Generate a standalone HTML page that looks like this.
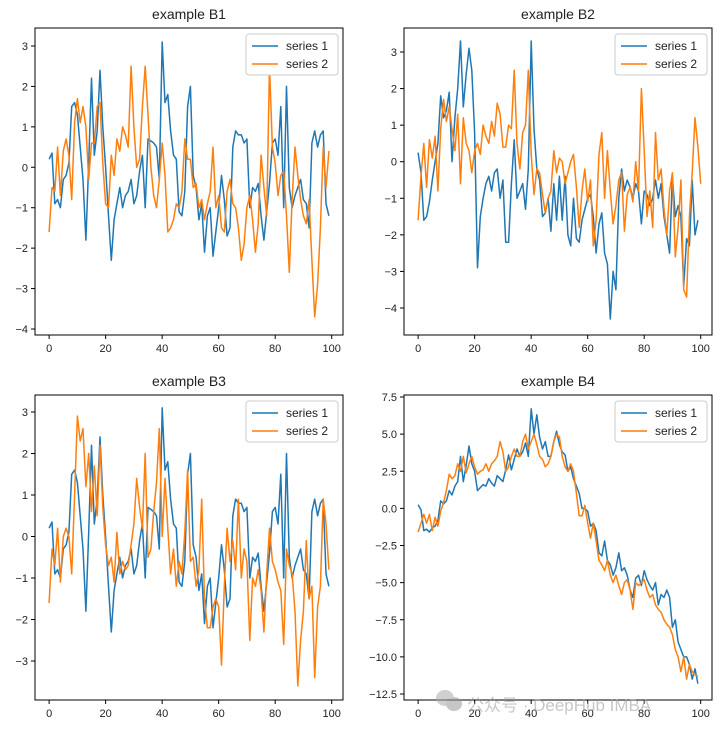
<!DOCTYPE html>
<html><head><meta charset="utf-8"><style>
body{margin:0;background:#fff;width:720px;height:730px;overflow:hidden}
svg text{font-family:"Liberation Sans","DejaVu Sans",sans-serif;fill:#222}
</style></head><body>
<svg id="chart" width="720" height="730" xmlns="http://www.w3.org/2000/svg"></svg>
<script>
const b1s1=[0.2,0.35,-0.9,-0.8,-1.0,-0.3,-0.2,0.1,1.5,1.6,1.3,0.5,-0.3,-1.8,0.1,2.2,0.3,0.9,2.4,1.0,0.0,-1.2,-2.3,-1.3,-0.9,-0.5,-1.0,-0.7,-0.6,-0.3,-0.9,-0.7,-0.1,0.3,-1.0,0.7,0.65,0.6,0.5,-0.3,3.1,1.6,1.8,0.9,0.3,0.2,-1.1,-1.2,-0.6,1.5,2.0,-0.2,-0.5,-1.3,-0.9,-2.1,-1.2,-1.0,-2.2,-1.6,-1.0,-0.2,-0.8,-1.7,-1.5,0.5,0.9,0.8,0.8,0.6,0.7,-1.0,-0.5,-0.6,-0.4,-1.2,-1.8,-1.1,-0.4,0.6,0.7,0.3,1.5,-1.0,2.0,-0.5,-1.0,-0.7,-0.5,-0.3,-0.8,-0.9,-1.5,0.6,0.9,0.5,0.8,0.9,-0.9,-1.2];
const b1s2=[-1.6,-0.5,-0.6,0.5,-0.7,0.4,0.7,0.3,-0.8,1.1,1.7,1.1,1.5,1.0,-0.3,0.6,0.6,1.5,1.6,0.1,-0.9,-1.0,0.3,-0.2,0.7,0.4,1.0,0.8,0.5,2.5,1.0,0.0,0.2,1.5,2.5,1.3,0.0,-0.7,-1.0,-0.3,0.6,-0.2,-1.6,-1.5,-1.3,-0.9,-1.0,-0.6,0.7,0.2,0.2,-0.5,-0.4,-1.0,-0.8,-1.3,-0.9,-0.6,0.5,-1.0,-0.7,-1.5,-1.6,-0.6,-0.3,-0.9,-1.0,-1.5,-2.3,-1.9,-1.0,-0.7,-1.3,-2.1,-1.4,0.3,-0.5,-1.2,2.5,0.5,0.1,-0.7,-0.2,-0.1,-1.2,-2.6,-0.8,0.5,-0.2,-0.8,-1.2,-1.4,-0.8,-2.3,-3.7,-2.9,-1.5,0.5,-0.5,0.4];
const b2s1=[0.25,-0.3,-1.6,-1.5,-1.1,-0.5,0.0,0.5,1.8,1.2,1.4,1.9,0.0,1.2,2.0,3.3,1.5,2.4,3.1,2.5,0.8,-2.9,-1.5,-1.0,-0.6,-0.4,-0.8,-0.3,-0.2,-1.0,-0.5,-2.2,-2.2,-0.6,0.6,-1.0,-0.8,-0.6,-1.3,-0.2,3.3,0.9,-0.2,-0.5,-1.5,-1.4,-1.0,-1.9,-0.6,-1.6,-0.4,-1.6,-0.4,-2.0,-2.3,-1.0,-2.1,-2.2,-1.6,-1.3,-1.0,-0.9,-1.5,-2.5,-1.7,-1.4,-2.5,-2.8,-4.3,-3.0,-3.5,-1.0,-0.2,-0.8,-0.5,-0.7,-1.0,-0.6,-0.8,-1.7,-0.8,-0.9,-1.2,-1.0,-0.5,-1.0,-0.6,-1.5,-2.0,-2.5,-0.4,-1.5,-1.2,-1.5,-3.4,-2.1,-2.3,-0.5,-2.0,-1.6];
const b2s2=[-1.6,-0.4,0.5,-0.7,0.6,0.1,0.7,-0.8,0.9,1.7,1.1,1.5,0.9,0.3,1.3,-0.6,1.2,0.5,0.3,-0.3,0.3,0.5,0.2,1.0,0.7,0.5,1.1,0.7,1.6,1.3,0.4,0.4,1.0,0.9,2.5,0.5,-0.2,0.8,1.0,2.5,0.2,-0.9,-0.2,-0.3,-0.9,-1.4,-1.0,-0.8,0.3,-0.3,0.1,0.0,-0.6,-0.3,0.0,0.2,-0.7,-1.8,-0.8,-0.2,-1.1,-0.5,-2.3,-1.6,0.2,0.8,-1.0,0.3,-0.8,-1.7,-1.2,-0.5,-0.3,-1.9,-0.9,-0.7,-1.1,0.0,-0.8,2.0,0.3,-1.5,-0.8,-1.8,0.8,-0.5,-0.2,-1.3,-2.0,-0.8,-0.3,-2.6,-1.8,-0.5,-3.5,-3.7,-1.5,-0.3,1.2,0.4,-0.6];
const b3s1=b1s1.slice();
const b3s2=[-1.6,-0.3,-0.7,0.2,-1.1,0.0,0.2,0.0,-0.9,1.0,2.9,2.3,2.6,1.2,2.0,0.6,1.7,0.5,2.2,0.7,-0.2,-0.7,-0.5,-1.1,0.1,-0.9,-0.6,-0.8,-0.7,-0.2,0.3,1.4,0.7,0.2,2.0,-0.5,-0.3,0.6,1.3,2.6,0.0,1.4,0.2,-0.9,-0.3,-1.2,-0.6,-0.9,0.1,1.6,-0.6,-0.5,-1.2,-0.8,0.9,-1.5,-2.2,-2.2,-1.7,-1.5,-1.7,-3.1,-1.2,0.2,-0.6,-0.1,-0.8,0.9,-1.0,-0.3,-0.6,-2.5,-1.0,-1.2,-0.8,-1.3,-2.3,-0.9,0.2,-0.6,-0.8,-1.1,-1.3,-2.6,-0.3,-0.7,-0.9,-1.8,-3.6,-2.5,-1.8,-0.1,-1.5,-1.2,-3.4,-1.7,-1.2,0.9,0.3,-0.8];
const b4s1=[0.25,-0.1,-1.5,-1.4,-1.6,-1.3,-1.2,-0.8,0.5,0.3,0.5,1.2,0.9,1.5,1.8,3.5,1.8,2.9,4.2,3.0,2.5,1.2,1.4,1.6,1.5,2.0,1.7,1.5,2.2,2.0,1.8,2.6,3.6,2.6,3.3,4.0,3.5,3.8,4.4,3.5,6.7,5.0,6.3,4.8,4.0,4.5,3.5,3.5,4.5,5.2,4.3,3.8,3.6,2.5,2.8,2.0,1.5,1.0,0.0,0.0,-0.2,-1.2,-1.0,-1.5,-3.0,-3.2,-2.2,-3.5,-3.8,-4.5,-4.0,-3.0,-4.2,-4.0,-4.5,-5.5,-6.0,-4.7,-4.5,-5.2,-4.2,-4.8,-5.2,-5.5,-5.0,-6.5,-5.8,-6.0,-5.5,-6.0,-8.0,-7.5,-9.0,-9.5,-10.0,-10.0,-10.5,-11.5,-10.8,-11.8];
const b4s2=[-1.6,-1.0,-0.4,-1.0,-0.4,-1.5,-0.6,-1.2,-0.2,0.4,1.2,2.3,2.0,2.2,3.0,2.5,3.5,2.4,3.0,3.5,2.8,2.3,2.5,2.6,3.0,2.5,3.0,3.2,3.5,4.5,3.8,2.5,2.8,3.5,4.0,3.5,3.5,4.5,5.0,4.0,4.5,5.0,4.3,3.5,3.3,2.8,3.0,3.5,4.5,5.0,4.8,3.5,2.8,2.5,3.0,2.5,1.0,-0.5,-0.5,0.2,-1.0,-2.0,-1.0,-2.2,-3.5,-3.8,-4.2,-3.5,-4.5,-5.0,-4.5,-5.2,-5.8,-5.0,-4.8,-5.5,-6.8,-5.0,-5.2,-5.0,-4.8,-5.5,-6.0,-5.8,-6.5,-6.8,-7.0,-7.5,-7.8,-8.0,-8.5,-9.5,-10.0,-11.0,-10.0,-11.5,-10.5,-11.0,-11.2,-11.3];
const xTicks=[0,20,40,60,80,100];
const yTicksA=[3,2,1,0,-1,-2,-3,-4];
const yTicksB=[3,2,1,0,-1,-2,-3,-4];
const yTicksC=[3,2,1,0,-1,-2,-3];
const yTicksD=[7.5,5.0,2.5,0.0,-2.5,-5.0,-7.5,-10.0,-12.5];
const titles=["example B1","example B2","example B3","example B4"];

const NS="http://www.w3.org/2000/svg";
const svg=document.getElementById('chart');
function mk(tag,attrs,parent){const e=document.createElementNS(NS,tag);for(const k in attrs)e.setAttribute(k,attrs[k]);(parent||svg).appendChild(e);return e;}
const C1='#1f77b4', C2='#ff7f0e';
const panels=[
 {L:35,T:28,W:308,H:307,s1:b1s1,s2:b1s2,ticks:yTicksA,v0:3,p0:46,v1:-4,p1:329,dec:0},
 {L:404,T:28,W:308,H:307,s1:b2s1,s2:b2s2,ticks:yTicksB,v0:3,p0:52,v1:-4,p1:308,dec:0},
 {L:35,T:395,W:308,H:305,s1:b3s1,s2:b3s2,ticks:yTicksC,v0:3,p0:412,v1:-3,p1:661,dec:0},
 {L:404,T:395,W:308,H:305,s1:b4s1,s2:b4s2,ticks:yTicksD,v0:7.5,p0:397,v1:-12.5,p1:694,dec:1}
];
panels.forEach((p,pi)=>{
  const g=mk('g',{});
  
  
  const xs=v=>p.L+(v+5)/109*p.W;
  const ys=v=>p.p0+(v-p.v0)/(p.v1-p.v0)*(p.p1-p.p0);
  const t=mk('text',{x:p.L+p.W/2,y:p.T-9,'text-anchor':'middle','font-size':14},g);
  t.textContent=titles[pi];
  
  
  [[p.s1,C1,'series-1-line'],[p.s2,C2,'series-2-line']].forEach(([arr,c,n])=>{
    const d=arr.map((v,i)=>(i?'L':'M')+xs(i).toFixed(1)+','+ys(v).toFixed(1)).join('');
    const path=mk('path',{d:d,fill:'none',stroke:c,'stroke-width':1.5,'stroke-linejoin':'round'},g);
    
    
  });
  const box=mk('rect',{x:p.L,y:p.T,width:p.W,height:p.H,fill:'none',stroke:'#000','stroke-width':1},g);
  
  
  xTicks.forEach(v=>{
    const x=xs(v);
    mk('line',{x1:x,x2:x,y1:p.T+p.H,y2:p.T+p.H+4,stroke:'#000'},g);
    const tl=mk('text',{x:x,y:p.T+p.H+17,'text-anchor':'middle','font-size':11},g);
    tl.textContent=v;
    
    
  });
  p.ticks.forEach(v=>{
    const y=ys(v);
    mk('line',{x1:p.L-4,x2:p.L,y1:y,y2:y,stroke:'#000'},g);
    const tl=mk('text',{x:p.L-7,y:y+4,'text-anchor':'end','font-size':11},g);
    tl.textContent=(v<0?'\u2212':'')+Math.abs(v).toFixed(p.dec);
    
    
  });
  const lg=mk('g',{},g);
  
  
  const lx=p.L+p.W-97, ly=p.T+6;
  mk('rect',{x:lx,y:ly,width:92,height:41,rx:3,fill:'#fff',stroke:'#ccc'},lg);
  [['series 1',C1],['series 2',C2]].forEach(([lab,c],k)=>{
    const yy=ly+12+k*18;
    mk('line',{x1:lx+6,x2:lx+32,y1:yy,y2:yy,stroke:c,'stroke-width':1.5},lg);
    const tt=mk('text',{x:lx+40,y:yy+4,'font-size':12},lg);
    tt.textContent=lab;
    
    
  });
});
const wm=mk('g',{opacity:0.55});


mk('ellipse',{cx:445,cy:698,rx:9,ry:8,fill:'#aaa'},wm);
mk('ellipse',{cx:454,cy:704,rx:8,ry:7,fill:'#999'},wm);
const wt=mk('text',{x:467,y:711,'font-size':17,style:'fill:#9a9a9a;font-family:"Liberation Sans","Noto Sans CJK SC",sans-serif'},wm);
wt.textContent='公众号 · DeepHub IMBA';
</script>
</body></html>
